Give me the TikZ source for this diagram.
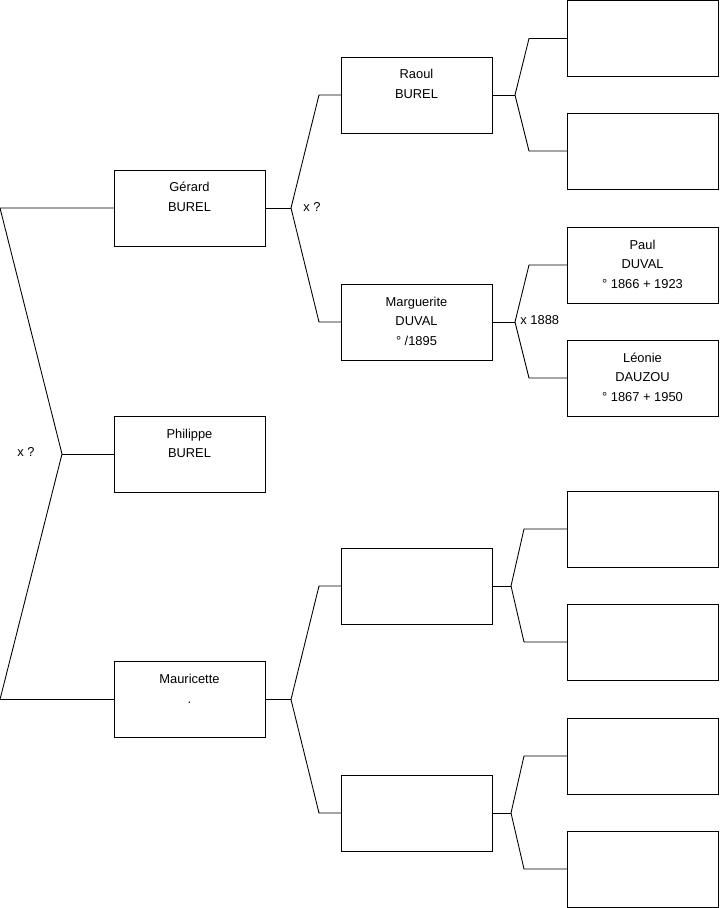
\documentclass[tikz,border=0pt]{standalone}
\usepackage{fontspec}
\setmainfont{Liberation Sans}
\usetikzlibrary{positioning}

% box text sits at the top of a fixed-size card
\newcommand{\card}[1]{\parbox[c][2.28cm][t]{4.53cm}{\centering\rule{0pt}{0.66cm}#1}}

\begin{document}
\begin{tikzpicture}[x=0.03cm,y=-0.03cm,font=\fontsize{11}{17}\selectfont,line width=0.75pt,
person/.style={draw,inner sep=0pt,outer sep=0pt},
union/.style={inner sep=0pt,anchor=west}]
\useasboundingbox (0,0) rectangle (719,908);
\node[person] (gerard) at (189.5,208) {\card{Gérard\\BUREL}};
\node[person] (philippe) at (189.5,454) {\card{Philippe\\BUREL}};
\node[person] (mauricette) at (189.5,699.5) {\card{Mauricette\\.}};
\node[person] (raoul) at (416.5,95) {\card{Raoul\\BUREL}};
\node[person] (marguerite) at (416.5,322) {\card{Marguerite\\DUVAL\\° /1895}};
\node[person] (mauA) at (416.5,586) {\card{}};
\node[person] (mauB) at (416.5,813) {\card{}};
\node[person] (raoulF) at (642.5,38.5) {\card{}};
\node[person] (raoulM) at (642.5,151) {\card{}};
\node[person] (paul) at (642.5,265) {\card{Paul\\DUVAL\\° 1866 + 1923}};
\node[person] (leonie) at (642.5,378) {\card{Léonie\\DAUZOU\\° 1867 + 1950}};
\node[person] (mauAF) at (642.5,529) {\card{}};
\node[person] (mauAM) at (642.5,642) {\card{}};
\node[person] (mauBF) at (642.5,756) {\card{}};
\node[person] (mauBM) at (642.5,869) {\card{}};
\node[union] (x0) at (17,452) {x ?};
\node[union] (xG) at (303,207) {x ?};
\node[union] (xM) at (520,320) {x 1888};
% parents of Philippe
\coordinate (f0) at (62,454);
\draw (gerard.west) -- (gerard.west -| 0,0) -- (f0) -- (mauricette.west -| 0,0) -- (mauricette.west);
\draw (f0) -- (philippe.west);
% parents of Gérard
\draw (gerard.east) -- ++(26,0) coordinate (fG);
\draw (raoul.west) -- ++(-22,0) -- (fG);
\draw (marguerite.west) -- ++(-22,0) -- (fG);
% parents of Mauricette
\draw (mauricette.east) -- ++(26,0) coordinate (fM);
\draw (mauA.west) -- ++(-22,0) -- (fM);
\draw (mauB.west) -- ++(-22,0) -- (fM);
% parents of Raoul
\draw (raoul.east) -- ++(23,0) coordinate (fR);
\draw (raoulF.west) -- ++(-38,0) -- (fR);
\draw (raoulM.west) -- ++(-38,0) -- (fR);
% parents of Marguerite
\draw (marguerite.east) -- ++(23,0) coordinate (fD);
\draw (paul.west) -- ++(-38,0) -- (fD);
\draw (leonie.west) -- ++(-38,0) -- (fD);
% upper generations on Mauricette's side
\draw (mauA.east) -- ++(19,0) coordinate (fA);
\draw (mauAF.west) -- ++(-43,0) -- (fA);
\draw (mauAM.west) -- ++(-43,0) -- (fA);
\draw (mauB.east) -- ++(19,0) coordinate (fB);
\draw (mauBF.west) -- ++(-43,0) -- (fB);
\draw (mauBM.west) -- ++(-43,0) -- (fB);
\end{tikzpicture}
\end{document}
